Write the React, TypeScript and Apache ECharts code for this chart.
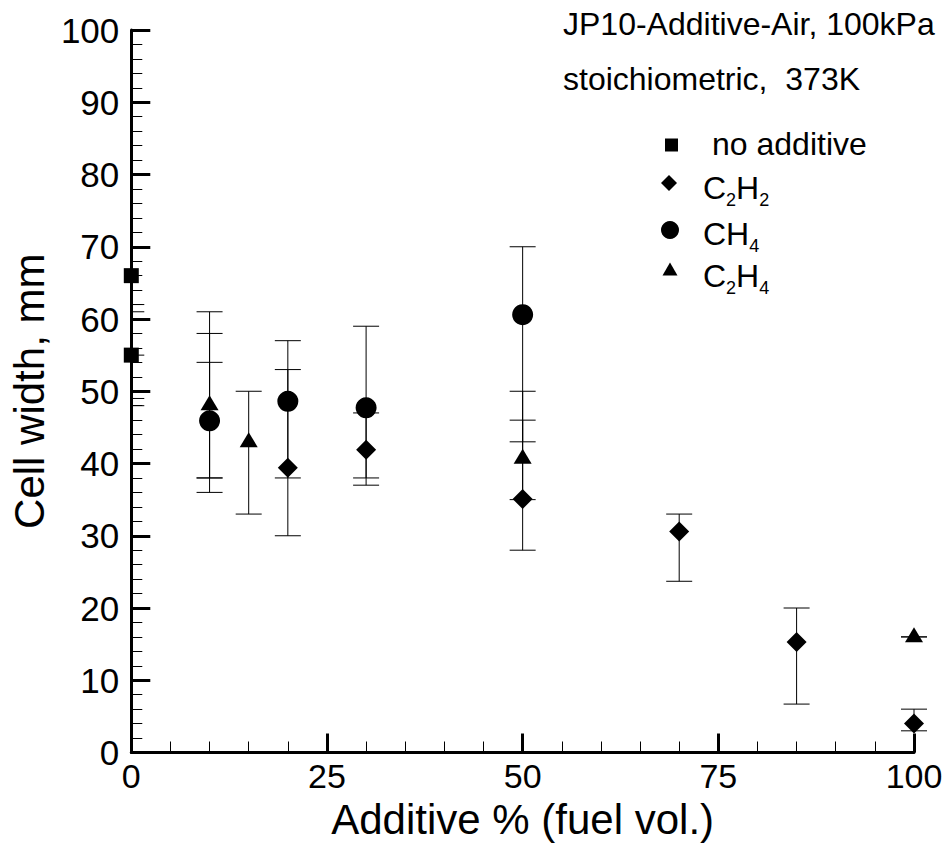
import React, { useEffect, useRef } from 'react';
import * as echarts from 'echarts';

const FONT = '"Liberation Sans", Arial, Helvetica, sans-serif';

// ---- data (x = additive %, y = cell width mm) ----
const noAdditive = [[0, 66.0], [0, 55.0]];
const c2h2 = [[20, 39.4], [30, 41.9], [50, 35.1], [70, 30.6], [85, 15.3], [100, 4.0]];
const ch4 = [[10, 45.9], [20, 48.6], [30, 47.7], [50, 60.6]];
const c2h4 = [[10, 48.4], [15, 43.3], [50, 41.0], [100, 16.3]];

// error bars: [x, low, high]
const noAdditiveErr = [[0, 61, 70], [0, 49, 62], [0, 48, 55]];
const c2h2Err = [[20, 30, 53], [30, 38, 47], [50, 28, 46], [70, 23.7, 33], [85, 6.7, 20], [100, 3, 6]];
const ch4Err = [[10, 38, 54], [20, 38, 57], [30, 37, 59], [50, 43, 70]];
const c2h4Err = [[10, 36, 61], [10, 38, 58], [15, 33, 50], [50, 35, 50], [100, 16, 16]];

const titleLines = ['JP10-Additive-Air, 100kPa', 'stoichiometric,  373K'];
const legendLabels = ['no additive', 'C{s|2}H{s|2}', 'CH{s|4}', 'C{s|2}H{s|4}'];
const seriesNames = ['no additive', 'C2H2', 'CH4', 'C2H4'];

function errorBarItem(params: any, api: any) {
  const x = api.value(0);
  const lo = api.value(1);
  const hi = api.value(2);
  const pLo = api.coord([x, lo]);
  const pHi = api.coord([x, hi]);
  const half = 13;
  const left = params.coordSys.x;
  const cl = (v: number) => Math.max(v, left);
  const style = { stroke: '#000', lineWidth: 1 };
  return {
    type: 'group',
    children: [
      { type: 'line', shape: { x1: pLo[0], y1: pLo[1], x2: pHi[0], y2: pHi[1] }, style },
      { type: 'line', shape: { x1: cl(pLo[0] - half), y1: pLo[1], x2: pLo[0] + half, y2: pLo[1] }, style },
      { type: 'line', shape: { x1: cl(pHi[0] - half), y1: pHi[1], x2: pHi[0] + half, y2: pHi[1] }, style },
    ],
  };
}

function errSeries(name: string, data: number[][]) {
  return {
    type: 'custom',
    name: name + ' error',
    data,
    encode: { x: 0, y: [1, 2] },
    renderItem: errorBarItem,
    clip: false,
    z: 2,
    silent: true,
  };
}

function scatterSeries(name: string, data: number[][], symbol: string, symbolSize: any) {
  return {
    type: 'scatter',
    name,
    data,
    symbol,
    symbolSize,
    itemStyle: { color: '#000', opacity: 1 },
    z: 3,
    clip: false,
    silent: true,
  };
}

export default function App() {
  const ref = useRef<HTMLDivElement>(null);
  useEffect(() => {
    const chart = echarts.init(ref.current!, undefined, { renderer: 'svg' });
    const axisCommon = {
      type: 'value',
      axisLine: { show: true, onZero: false, lineStyle: { color: '#000', width: 3 } },
      axisTick: { show: true, inside: true, length: 19, lineStyle: { color: '#000', width: 3 } },
      minorTick: { show: true, splitNumber: 5, length: 11, lineStyle: { color: '#000', width: 1 } },
      splitLine: { show: false },
      minorSplitLine: { show: false },
      nameLocation: 'middle',
      nameTextStyle: { fontSize: 42, fontFamily: FONT, color: '#000' },
    };
    const sub = { fontSize: 18, fontFamily: FONT, fill: '#000', height: 0, padding: [24, 0, 0, 0] };
    const textEl = (text: string, x: number, y: number) => ({
      type: 'text',
      x,
      y,
      style: {
        text,
        fontSize: 32,
        fontFamily: FONT,
        fill: '#000',
        textAlign: 'left',
        align: 'left',
        textVerticalAlign: 'middle',
        verticalAlign: 'middle',
        rich: { s: sub },
      },
    });
    chart.setOption({
      animation: false,
      backgroundColor: '#fff',
      grid: { left: 130, right: 36, top: 30, bottom: 95.5, containLabel: false },
      xAxis: {
        ...axisCommon,
        min: 0,
        max: 100,
        interval: 25,
        name: 'Additive % (fuel vol.)',
        nameGap: 46,
        axisLabel: { fontSize: 34, fontFamily: FONT, color: '#000', margin: 6 },
      },
      yAxis: {
        ...axisCommon,
        min: 0,
        max: 100,
        interval: 10,
        name: 'Cell width, mm',
        nameGap: 76,
        axisLabel: { fontSize: 35, fontFamily: FONT, color: '#000', margin: 12 },
      },
      series: [
        errSeries(seriesNames[0], noAdditiveErr),
        errSeries(seriesNames[1], c2h2Err),
        errSeries(seriesNames[2], ch4Err),
        errSeries(seriesNames[3], c2h4Err),
        scatterSeries(seriesNames[0], noAdditive, 'rect', 15),
        scatterSeries(seriesNames[1], c2h2, 'diamond', 20),
        scatterSeries(seriesNames[2], ch4, 'circle', 21),
        scatterSeries(seriesNames[3], c2h4, 'triangle', [18, 15]),
      ],
      graphic: [
        textEl(titleLines[0], 563, 24),
        textEl(titleLines[1], 563, 79),
        { type: 'rect', shape: { x: 665, y: 138.5, width: 13, height: 13 }, style: { fill: '#000' } },
        textEl(legendLabels[0], 712, 144),
        { type: 'polygon', shape: { points: [[669, 175], [677, 183], [669, 191], [661, 183]] }, style: { fill: '#000' } },
        textEl(legendLabels[1], 703, 188),
        { type: 'circle', shape: { cx: 670, cy: 230, r: 9 }, style: { fill: '#000' } },
        textEl(legendLabels[2], 703, 234),
        { type: 'polygon', shape: { points: [[670, 262.5], [677.5, 275.5], [662.5, 275.5]] }, style: { fill: '#000' } },
        textEl(legendLabels[3], 703, 276),
      ],
    });
    return () => chart.dispose();
  }, []);
  return <div ref={ref} style={{ position: 'fixed', left: 0, top: 0, width: 950, height: 848 }} />;
}
